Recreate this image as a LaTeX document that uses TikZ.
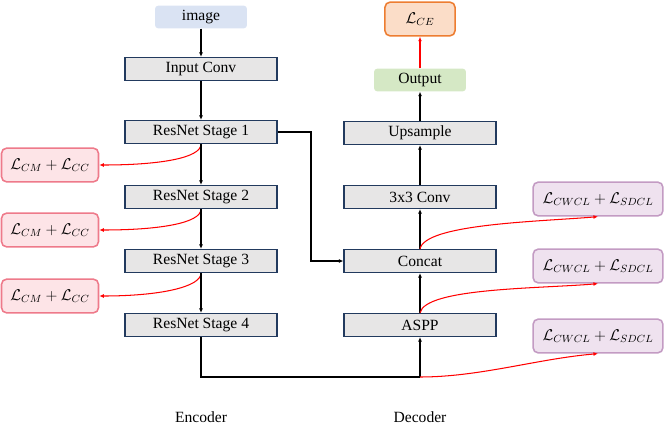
\documentclass[tikz,border=0pt]{standalone}
\usepackage{fontspec}
\setmainfont{Liberation Serif}
\usepackage{tikz}
\usetikzlibrary{arrows.meta}

\definecolor{blockgray}{HTML}{E7E6E6}
\definecolor{blockline}{HTML}{223A5E}
\definecolor{imgblue}{HTML}{DAE3F3}
\definecolor{outgreen}{HTML}{D5E8C5}
\definecolor{cefill}{HTML}{FBDDC8}
\definecolor{celine}{HTML}{ED7D31}
\definecolor{cmfill}{HTML}{FDE4E7}
\definecolor{cmline}{HTML}{EE7A8A}
\definecolor{clfill}{HTML}{EFE2EF}
\definecolor{clline}{HTML}{C39BC3}

\tikzset{
	block/.style={draw=blockline, fill=blockgray, line width=0.9pt, minimum width=117pt, minimum height=17.7pt, inner sep=0pt},
	soft/.style={rounded corners=2.5pt, minimum width=70.8pt, minimum height=17.5pt, inner sep=0pt},
	lossbox/.style={rounded corners=4pt, line width=1.2pt, minimum height=26pt, inner sep=0pt},
	flow/.style={line width=0.8pt, -{Latex[length=3.5pt,width=3pt]}},
	lossflow/.style={red, line width=0.8pt, -{Latex[length=3.5pt,width=3pt]}}
}

\begin{document}
\begin{tikzpicture}[x=0.77pt, y=-0.77pt, font=\large]
				\useasboundingbox (0,0) rectangle (664,425);
				\node[soft, fill=imgblue] (image) at (201,17) {image};
				\node[block] (inconv) at (201,69) {Input Conv};
				\foreach \q/\y in {1/132, 2/197, 3/261, 4/325} {
					\node[block] (stage\q) at (201,\y) {ResNet Stage \q};
				}
				\foreach \q/\y in {1/165, 2/230, 3/296} {
					\node[lossbox, draw=cmline, fill=cmfill, minimum width=74.7pt] (cm\q) at (50,\y) {$\mathcal{L}_{CM}+\mathcal{L}_{CC}$};
					\draw[lossflow] (stage\q.south) .. controls +(0,14) and +(60,0) .. (cm\q.east);
				}
				\node[lossbox, draw=celine, fill=cefill, minimum width=54pt] (lce) at (420,19) {$\mathcal{L}_{CE}$};
				\node[soft, fill=outgreen] (output) at (420,80) {Output};
				\node[block] (upsample) at (420,133) {Upsample};
				\node[block] (conv) at (420,197) {3x3 Conv};
				\node[block] (concat) at (420,261) {Concat};
				\node[block] (aspp) at (420,325) {ASPP};
				\foreach \q/\y in {1/199, 2/266, 3/336} {
					\node[lossbox, draw=clline, fill=clfill, minimum width=100pt] (cl\q) at (598,\y) {$\mathcal{L}_{CWCL}+\mathcal{L}_{SDCL}$};
				}
				\coordinate (bend) at (311,132);
				\coordinate (join) at (420,377);

				\foreach \a/\b in {image/inconv, inconv/stage1, stage1/stage2, stage2/stage3, stage3/stage4, aspp/concat, concat/conv, conv/upsample, upsample/output} {
					\draw[flow] (\a) -- (\b);
				}
				\draw[flow] (stage1.east) -- (bend) |- (concat.west);
				\draw[line width=0.8pt] (stage4.south) |- (join);
				\draw[flow] (join) -- (aspp.south);

				\draw[lossflow] (output) -- (lce);
				\draw[lossflow] (concat.north) .. controls +(5,-25) and +(-60,5) .. (cl1.south);
				\draw[lossflow] (aspp.north) .. controls +(5,-25) and +(-60,5) .. (cl2.south);
				\draw[lossflow] (join) .. controls +(60,0) and +(-60,5) .. (cl3.south);

				\node (enc) at (201,417) {Encoder};
				\node (dec) at (420,417) {Decoder};
\end{tikzpicture}
\end{document}
